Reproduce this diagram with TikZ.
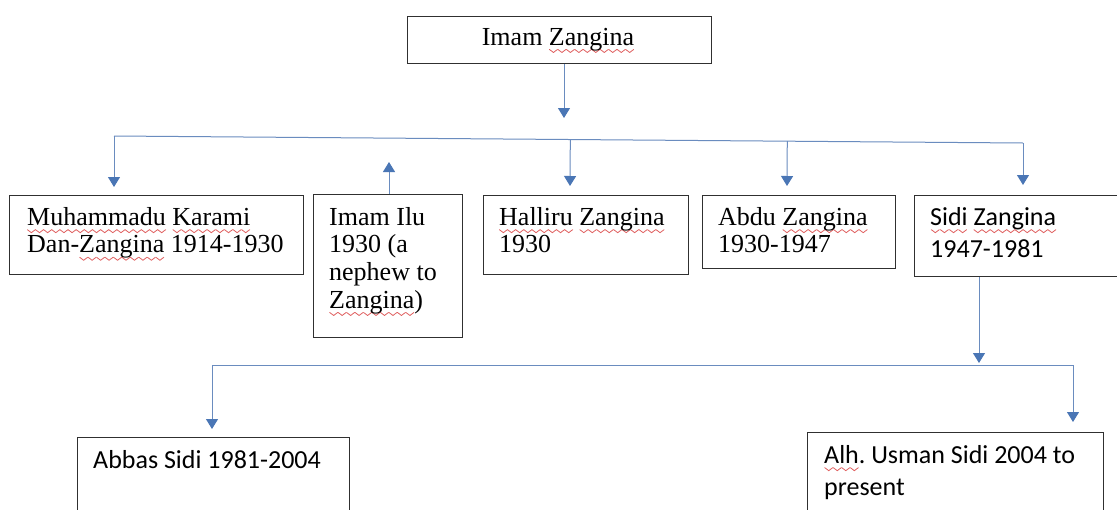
\documentclass[tikz,border=0pt]{standalone}
\usepackage{fontspec}
\setmainfont{Liberation Serif}
\newfontfamily\calibri{Carlito}
\usetikzlibrary{arrows.meta,calc}
\definecolor{connc}{HTML}{6A8CBF}
\definecolor{tipc}{HTML}{4A76B5}
\definecolor{wavec}{HTML}{E06060}
\definecolor{boxc}{HTML}{303030}
\newsavebox\spellwave
\newsavebox\spelltmp
\newcommand\spell[1]{\leavevmode\sbox\spelltmp{#1}\rlap{\raisebox{-7.5pt}{\hbox to\wd\spelltmp{\xleaders\copy\spellwave\hfil}}}#1}
\begin{document}
\sbox\spellwave{\pgfpicture
  \pgfsetlinewidth{0.8pt}\pgfsetroundjoin\pgfsetroundcap
  \pgfsetstrokecolor{wavec}
  \pgfpathmoveto{\pgfpoint{0pt}{3pt}}
  \pgfpathcurveto{\pgfpoint{1.8pt}{3pt}}{\pgfpoint{2.4pt}{0pt}}{\pgfpoint{4pt}{0pt}}
  \pgfpathcurveto{\pgfpoint{5.6pt}{0pt}}{\pgfpoint{6.2pt}{3pt}}{\pgfpoint{8pt}{3pt}}
  \pgfusepath{stroke}
  \pgfresetboundingbox
  \pgfpathrectangle{\pgfpoint{0pt}{0pt}}{\pgfpoint{8pt}{3pt}}
  \pgfusepath{use as bounding box}
\endpgfpicture}
\frenchspacing
\begin{tikzpicture}[x=1pt,y=-1pt,
  box/.style={draw=boxc, line width=1.2pt, inner sep=0pt, anchor=north west},
  conn/.style={draw=connc, line width=1pt},
  arr/.style={conn, -{Triangle[width=12pt,length=10pt,color=tipc]}},
  tnr/.style={inner sep=0pt, anchor=north west, align=left, font=\fontsize{26}{27.6}\selectfont\frenchspacing},
  cal/.style={inner sep=0pt, anchor=north west, align=left, font=\calibri\fontsize{26}{32}\selectfont\frenchspacing},
]
\useasboundingbox (0,0) rectangle (1117,509);
\fill[white] (0,0) rectangle (1117,509);

% boxes
\node[box, minimum width=304pt, minimum height=47pt] (top) at (407,16) {};
\node[box, minimum width=294pt, minimum height=79pt] (m1) at (9,195) {};
\node[box, minimum width=149pt, minimum height=143pt] (m2) at (313,194) {};
\node[box, minimum width=205pt, minimum height=79pt] (m3) at (483,195) {};
\node[box, minimum width=193pt, minimum height=73pt] (m4) at (702,195) {};
\node[box, minimum width=240pt, minimum height=81pt] (m5) at (914,195) {};
\node[box, minimum width=272pt, minimum height=110pt] (b1) at (77,437) {};
\node[box, minimum width=296pt, minimum height=110pt] (b2) at (807,432) {};

% texts
\node[anchor=base, inner sep=0pt, font=\fontsize{26}{27.6}\selectfont] (t0) at (558,45) {Imam \spell{Zangina}};
\node[tnr] (t1) at (27,205) {\rule{0pt}{20pt}\spell{Muhammadu} \spell{Karami}\\Dan-\spell{Zangina} 1914-1930};
\node[tnr] (t2) at (329,205) {\rule{0pt}{20pt}Imam Ilu\\1930 (a\\nephew to\\\spell{Zangina})};
\node[tnr] (t3) at (499,205) {\rule{0pt}{20pt}\spell{Halliru} \spell{Zangina}\\1930};
\node[tnr] (t4) at (718,205) {\rule{0pt}{20pt}Abdu \spell{Zangina}\\1930-1947};
\node[cal] (t5) at (930,205) {\rule{0pt}{20pt}\spell{Sidi} \spell{Zangina}\\1947-1981};
\node[cal] (t6) at (93,448) {\rule{0pt}{20pt}Abbas Sidi 1981-2004};
\node[cal] (t7) at (824,443) {\rule{0pt}{20pt}\spell{Alh}. Usman Sidi 2004 to\\present};

% connector coordinates
\coordinate (a0) at (564,118);
\coordinate (L1) at (114,136);
\coordinate (R1) at (1023,143);
\coordinate (d1) at (114,187);
\coordinate (d3) at (570,186);
\coordinate (d4) at (787,186);
\coordinate (d5) at (1023,185);
\coordinate (u2) at (389,162);
\coordinate (s1) at (979,363);
\coordinate (L2) at (212,365);
\coordinate (R2) at (1073,365);
\coordinate (e1) at (212,429);
\coordinate (e2) at (1073,422);

% connectors
\draw[arr] (a0 |- top.south) -- (a0);
\draw[conn] (L1) -- (R1);
\draw[arr] (L1) -- (d1);
\draw[arr] ($(L1)!(d3)!(R1)$) -- (d3);
\draw[arr] ($(L1)!(d4)!(R1)$) -- (d4);
\draw[arr] (R1) -- (d5);
\draw[arr] (u2 |- m2.north) -- (u2);
\draw[arr] (s1 |- m5.south) -- (s1);
\draw[conn] (L2) -- (R2);
\draw[arr] (L2) -- (e1);
\draw[arr] (R2) -- (e2);
\end{tikzpicture}
\end{document}
